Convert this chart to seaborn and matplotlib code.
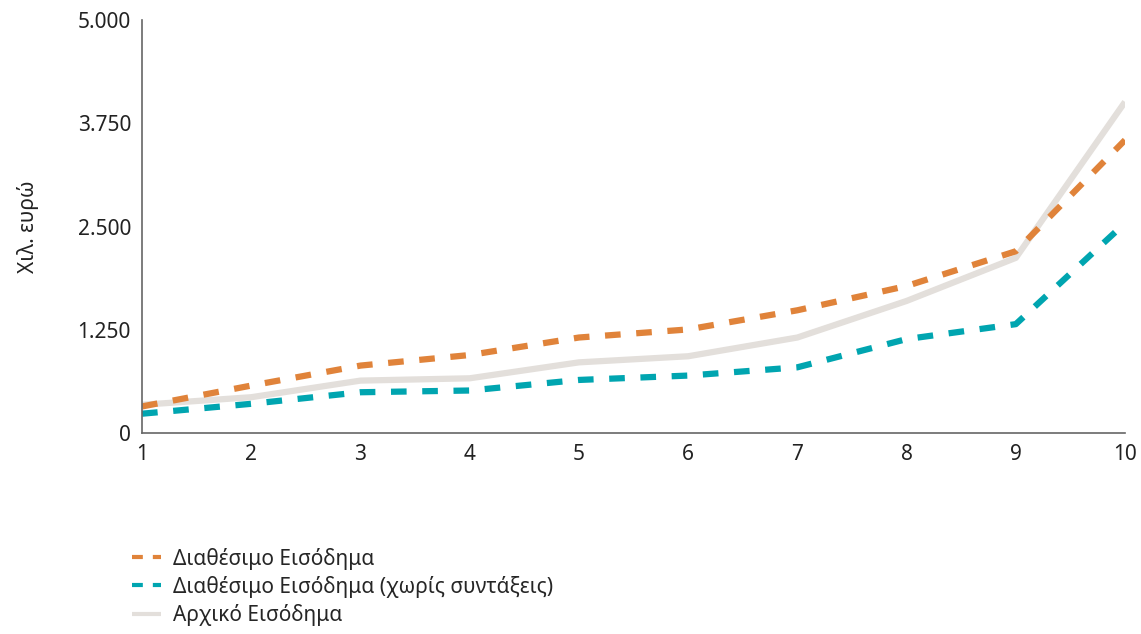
import numpy as np
import pandas as pd
import seaborn as sns
import matplotlib.pyplot as plt
from matplotlib.lines import Line2D
from matplotlib.ticker import FuncFormatter

# deciles and income levels (thousand euro)
deciles = [1, 2, 3, 4, 5, 6, 7, 8, 9, 10]
disposable = [322, 575, 817, 945, 1157, 1255, 1487, 1781, 2202, 3549]
disposable_no_pensions = [234, 354, 494, 515, 643, 696, 796, 1138, 1319, 2543]
initial = [342, 434, 635, 663, 856, 930, 1157, 1600, 2122, 4012]

names = ["Διαθέσιμο Εισόδημα",
         "Διαθέσιμο Εισόδημα (χωρίς συντάξεις)",
         "Αρχικό Εισόδημα"]
colors = ["#E0833A", "#00A5B0", "#E3DFDB"]
y_ticks = [0, 1250, 2500, 3750, 5000]

sns.set_style("white")
plt.rcParams['font.family'] = ['Noto Sans', 'DejaVu Sans']

fig = plt.figure(figsize=(11.41, 6.34), dpi=100)
ax = fig.add_axes([0.1245, 0.317, 0.8615, 0.651])

# gray drawn first so the dashed lines sit on top
sns.lineplot(x=deciles, y=initial, color=colors[2], lw=4.5,
             solid_capstyle='butt', ax=ax)
sns.lineplot(x=deciles, y=disposable_no_pensions, color=colors[1], lw=4.5,
             linestyle=(0, (2.5, 2.5)), dash_capstyle='butt', ax=ax)
sns.lineplot(x=deciles, y=disposable, color=colors[0], lw=4.5,
             linestyle=(0, (2.5, 2.5)), dash_capstyle='butt', ax=ax)

ax.set_xlim(1, 10)
ax.set_ylim(0, 5000)
ax.set_xticks(deciles)
ax.set_yticks(y_ticks)
ax.yaxis.set_major_formatter(FuncFormatter(lambda v, p: f"{int(v):,}".replace(",", ".")))
ax.tick_params(axis='both', labelsize=15, colors='#222222', length=0, pad=8)
ax.set_ylabel("Χιλ. ευρώ", fontsize=15, color='#222222', labelpad=28)
ax.set_xlabel("")

sns.despine(ax=ax)
for s in ['left', 'bottom']:
    ax.spines[s].set_color('#666666')
    ax.spines[s].set_linewidth(1.2)

handles = [
    Line2D([], [], color=colors[0], lw=3, linestyle=(0, (2.6, 2.4)), dash_capstyle='butt'),
    Line2D([], [], color=colors[1], lw=3, linestyle=(0, (2.6, 2.4)), dash_capstyle='butt'),
    Line2D([], [], color=colors[2], lw=3, solid_capstyle='butt'),
]
fig.legend(handles, names,
           loc='upper left', bbox_to_anchor=(0.099, 0.166), frameon=False,
           fontsize=15, handlelength=1.4, handletextpad=0.6, labelspacing=0.3)

plt.savefig("out.png", dpi=100)
